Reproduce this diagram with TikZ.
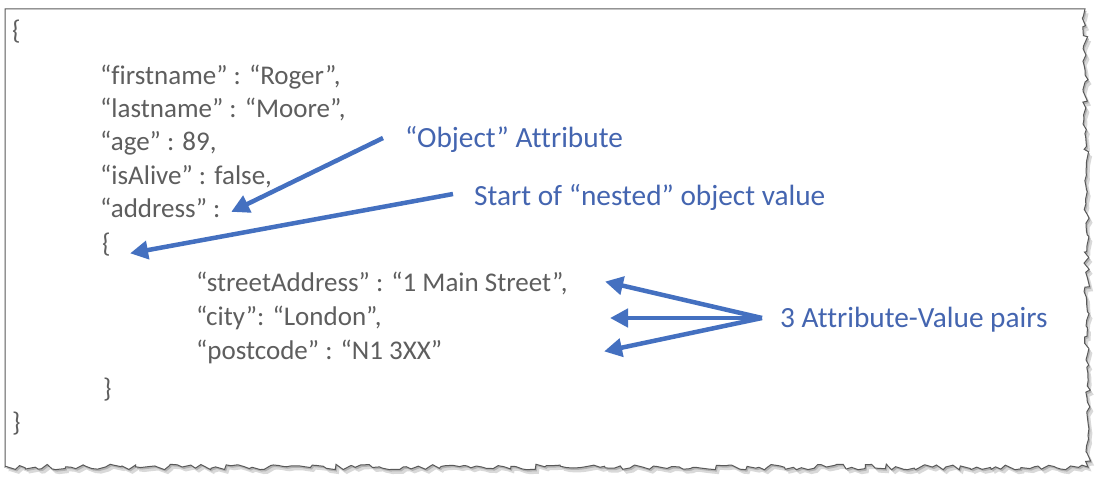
\documentclass[tikz,border=0pt]{standalone}
\usepackage{fontspec}
\setmainfont{Carlito}[Ligatures=NoCommon]
\usetikzlibrary{arrows.meta,decorations.pathmorphing}
\definecolor{codegray}{HTML}{5E5E5E}
\definecolor{annblue}{HTML}{4465B0}
\definecolor{arrblue}{HTML}{4470C0}
\begin{document}
\begin{tikzpicture}[x=1pt,y=-1pt,
  code/.style={anchor=base west,inner sep=0pt,text=codegray,font=\fontsize{27}{30}\selectfont},
  ann/.style={anchor=base west,inner sep=0pt,text=annblue,font=\fontsize{29.3}{32}\selectfont},
  pointer/.style={draw=arrblue,line width=4.5pt,-{Triangle[length=18pt,width=18pt]},shorten >=-2pt},
  torn/.style={decoration={random steps,segment length=5pt,amplitude=2.8pt}}]
\useasboundingbox (0,0) rectangle (1103,481);
% paper shadow
\pgfmathsetseed{17}
\fill[gray!30,shift={(3.5,4.5)}] (5,9) -- (1085,9) decorate[torn]{-- (1088,467) -- (5,467)} -- cycle;
\pgfmathsetseed{17}
\fill[gray!60,shift={(1.5,2)}] (5,9) -- (1085,9) decorate[torn]{-- (1088,467) -- (5,467)} -- cycle;
% paper
\pgfmathsetseed{17}
\filldraw[fill=white,draw=gray!70!black,line width=1pt] (5,9) -- (1085,9) decorate[torn]{-- (1088,467) -- (5,467)} -- cycle;
% code
\node[code] (ob) at (12,40) {\{};
\node[code] (l1) at (100,85) {“firstname” : “Roger”,};
\node[code] (l2) at (100,118) {“lastname” : “Moore”,};
\node[code] (l3) at (100,151) {“age” : 89,};
\node[code] (l4) at (100,185) {“isAlive” : false,};
\node[code] (l5) at (100,218) {“address” :};
\node[code] (ib) at (102,252) {\{};
\node[code] (l6) at (196,291) {“streetAddress” : “1 Main Street”,};
\node[code] (l7) at (196,325) {“city”: “London”,};
\node[code] (l8) at (196,359) {“postcode” : “N1 3XX”};
\node[code] (ic) at (103,397) {\}};
\node[code] (oc) at (12,431) {\}};
% annotations
\node[ann] (a1) at (405,148) {“Object” Attribute};
\node[ann] (a2) at (474,206) {Start of “nested” object value};
\node[ann] (a3) at (780,327) {3 Attribute-Value pairs};
\coordinate (s1) at (383,138);
\coordinate (t1) at (233,211);
\coordinate (s2) at (453,194);
\coordinate (t2) at (132,253);
\coordinate (s3) at (762,318);
\coordinate (t3a) at (607,282);
\coordinate (t3b) at (612,318);
\coordinate (t3c) at (606,351);
\draw[pointer] (s1) -- (t1);
\draw[pointer] (s2) -- (t2);
\draw[pointer] (s3) -- (t3a);
\draw[pointer] (s3) -- (t3b);
\draw[pointer] (s3) -- (t3c);
\end{tikzpicture}
\end{document}
